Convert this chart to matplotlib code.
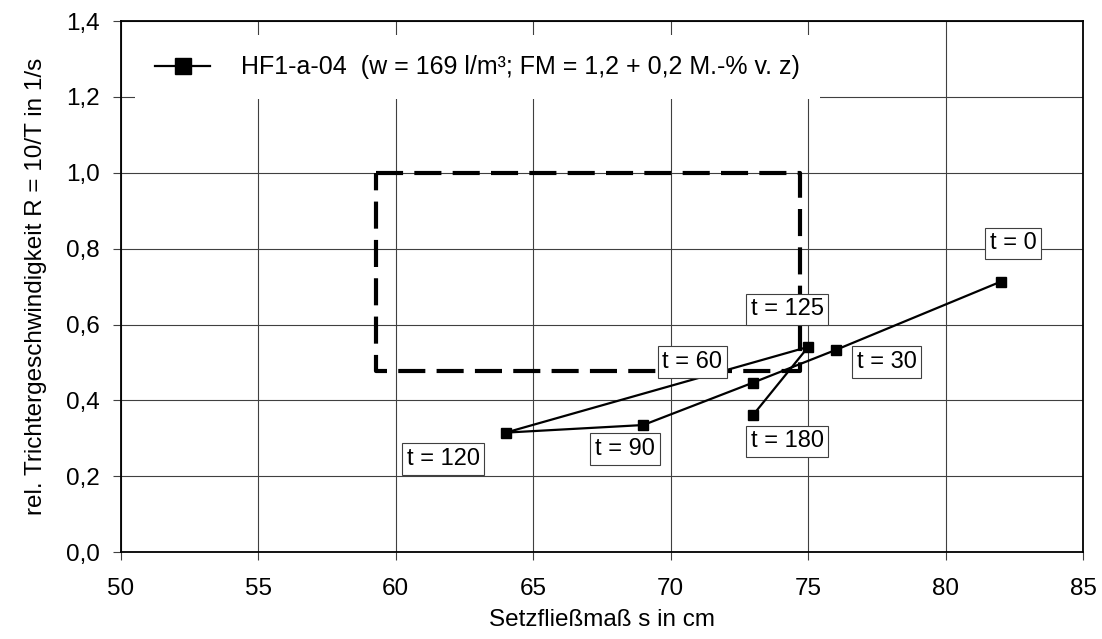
import matplotlib
matplotlib.use("Agg")
import matplotlib.pyplot as plt
from matplotlib.ticker import FuncFormatter

plt.rcParams['font.family'] = ['Liberation Sans', 'DejaVu Sans']

# Data
s_values = [82, 76, 73, 69, 64, 75, 73]
r_values = [0.713, 0.533, 0.447, 0.335, 0.315, 0.541, 0.362]
labels = ["t = 0", "t = 30", "t = 60", "t = 90", "t = 120", "t = 125", "t = 180"]
label_pos = [(82.45, 0.814), (77.85, 0.501), (70.79, 0.501), (68.34, 0.272),
             (61.72, 0.245), (74.23, 0.640), (74.23, 0.292)]
series_name = "HF1-a-04  (w = 169 l/m³; FM = 1,2 + 0,2 M.-% v. z)"
rect_x = [59.3, 74.7, 74.7, 59.3, 59.3]
rect_y = [1.0, 1.0, 0.478, 0.478, 1.0]

fig = plt.figure(figsize=(11.02, 6.39), dpi=100)
ax = fig.add_axes([0.1095, 0.136, 0.8735, 0.831])

ax.set_xlim(50, 85)
ax.set_ylim(0, 1.4)
ax.set_xticks(range(50, 86, 5))
ax.set_yticks([0, 0.2, 0.4, 0.6, 0.8, 1.0, 1.2, 1.4])
ax.yaxis.set_major_formatter(FuncFormatter(lambda v, p: f"{v:.1f}".replace('.', ',')))
ax.tick_params(labelsize=17.5, length=6, width=0.8, color='#404040')
ax.tick_params(axis='x', pad=13)
ax.tick_params(axis='y', pad=9)
ax.grid(True, color='#404040', lw=0.8)
ax.set_axisbelow(True)
for sp in ax.spines.values():
    sp.set_linewidth(1.3)
    sp.set_color('black')

ax.plot(rect_x, rect_y, color='black', lw=3, linestyle=(0, (6.5, 2.7)), zorder=2)

ax.plot(s_values, r_values, color='black', lw=1.6, marker='s', markersize=7.5,
        label=series_name, zorder=3)

for (lx, ly), txt in zip(label_pos, labels):
    ax.text(lx, ly, txt, fontsize=17, ha='center', va='center', zorder=4,
            bbox=dict(boxstyle='square,pad=0.2', fc='white', ec='#404040', lw=0.8))

leg = ax.legend(loc='center left', bbox_to_anchor=(0.0149, 0.913), fontsize=18,
                frameon=True, fancybox=False, edgecolor='none', facecolor='white',
                framealpha=1, handlelength=2.2, handletextpad=1.25, borderpad=0.8,
                borderaxespad=0, markerscale=1.5)

ax.set_xlabel("Setzfließmaß s in cm", fontsize=17.5, labelpad=6)
ax.set_ylabel("rel. Trichtergeschwindigkeit R = 10/T in 1/s", fontsize=17.5, labelpad=14)

fig.savefig("out.png", dpi=100)
